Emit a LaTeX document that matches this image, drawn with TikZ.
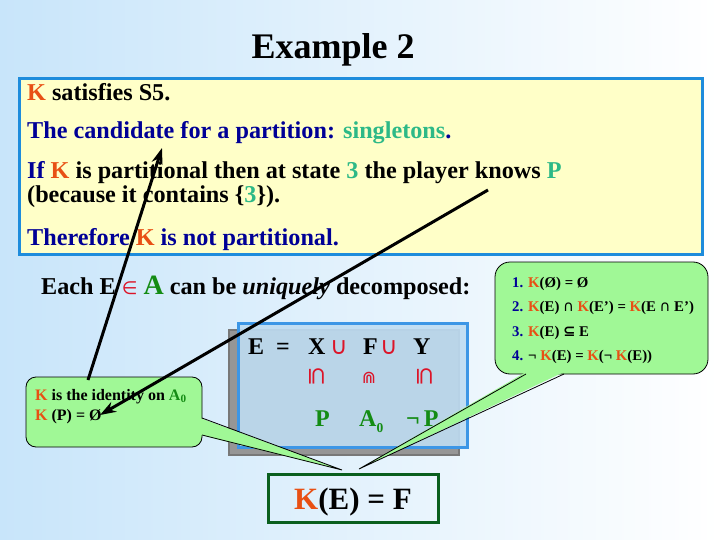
\documentclass[tikz,border=0pt]{standalone}
\usepackage{fontspec}
\setmainfont{Liberation Serif}
\newfontfamily\symf{DejaVu Sans}
\usetikzlibrary{arrows.meta}
\definecolor{bgL}{RGB}{200,229,250}
\definecolor{kor}{RGB}{232,80,20}
\definecolor{cnavy}{RGB}{0,0,150}
\definecolor{cteal}{RGB}{45,185,135}
\definecolor{grn}{RGB}{20,140,20}
\definecolor{rd}{RGB}{220,20,40}
\definecolor{ylw}{RGB}{255,255,200}
\definecolor{ybord}{RGB}{30,140,220}
\definecolor{cg}{RGB}{160,248,150}
\definecolor{bfill}{RGB}{190,220,242}
\definecolor{bbord}{RGB}{60,150,230}
\definecolor{dgreen}{RGB}{10,95,30}
\newcommand{\KK}{\textcolor{kor}{K}}
\newcommand{\capop}{{\symf\mdseries ∩}}
\tikzset{
  txt/.style={anchor=base west, inner sep=0pt, font=\fontsize{24.2}{28}\selectfont\bfseries},
  boxtxt/.style={anchor=base west, inner sep=0pt, font=\fontsize{24}{28}\selectfont\bfseries},
  smalltxt/.style={anchor=base west, inner sep=0pt, font=\fontsize{16}{18}\selectfont\bfseries},
  listtxt/.style={anchor=base west, inner sep=0pt, font=\fontsize{14.8}{16}\selectfont\bfseries},
  callout/.style={draw=black, line width=0.8pt, fill=cg},
  tailline/.style={draw=black, line width=0.8pt},
  bigarrow/.style={line width=3pt, -{Stealth[length=16pt,width=11pt,inset=5pt]}},
  relsym/.style={inner sep=0pt, text=rd, font=\symf\fontsize{24}{24}\selectfont}
}
\begin{document}
\begin{tikzpicture}[x=1pt,y=-1pt]
\useasboundingbox (0,0) rectangle (720,540);
\shade[left color=bgL, right color=white] (0,0) rectangle (720,540);

% title
\node[anchor=base, inner sep=0pt, font=\fontsize{36}{40}\selectfont\bfseries] (title) at (333,59) {Example 2};

% yellow box
\draw[fill=ylw, draw=ybord, line width=3pt] (19.5,78.5) rectangle (702,254.5);
\node[txt] (l1) at (27,101) {\KK{} satisfies S5.};
\node[txt] (l2) at (27,139) {\textcolor{cnavy}{The candidate for a partition:} \textcolor{cteal}{singletons}\textcolor{cnavy}{.}};
\node[txt] (l3) at (27,179) {\textcolor{cnavy}{If} \KK{} is partitional then at state \textcolor{cteal}{3} the player knows \textcolor{cteal}{P}};
\node[txt] (l4) at (27,203) {(because it contains \{\textcolor{cteal}{3}\}).};
\node[txt] (l5) at (27,245) {\textcolor{cnavy}{Therefore} \KK{} \textcolor{cnavy}{is not partitional.}};

% decomposition sentence
\node[txt] (each) at (41,294) {Each E \textcolor{rd}{\symf\mdseries\fontsize{18}{18}\selectfont ∈} \textcolor{grn}{\fontsize{28}{30}\selectfont A} can be \textit{uniquely} decomposed:};

% shadowed blue box
\draw[fill={rgb,255:red,150;green,150;blue,150}, draw={rgb,255:red,120;green,120;blue,120}, line width=1.2pt] (229,330) rectangle (459,455);
\draw[fill=bfill, fill opacity=0.9, draw=bbord, line width=3pt] (238,323) rectangle (467,447);

\node[boxtxt] (E) at (248,354) {E};
\node[boxtxt] (eq) at (276,354) {=};
\node[boxtxt] (X) at (308,354) {X};
\node[boxtxt, text=rd, font=\symf\fontsize{24}{28}\selectfont] (u1) at (330,354) {∪};
\node[boxtxt] (F) at (363,354) {F};
\node[boxtxt, text=rd, font=\symf\fontsize{24}{28}\selectfont] (u2) at (380,354) {∪};
\node[boxtxt] (Y) at (413,354) {Y};

\node[relsym, rotate=-90] (s1) at (317,377) {⊆};
\node[relsym, font=\symf\fontsize{17}{17}\selectfont] (s2) at (369,378) {⋒};
\node[relsym, rotate=-90] (s3) at (425,377) {⊆};

\node[boxtxt, text=grn] (P1) at (315,426) {P};
\node[boxtxt, text=grn] (A0) at (359,426) {A\raisebox{-6pt}{\fontsize{13.5}{14}\selectfont 0}};
\node[boxtxt, text=grn] (nP) at (406,426) {¬\,P};

% right callout
\coordinate (tipR) at (359,469);
\draw[callout, rounded corners=15pt] (495,262) rectangle (708,374);
\fill[cg] (526,372) -- (tipR) -- (564,372) -- cycle;
\draw[tailline] (526,374) -- (tipR) -- (564,374);
\node[listtxt, text=cnavy] (n1) at (512,287) {1.};
\node[listtxt] (i1) at (528,287) {\KK(Ø) = Ø};
\node[listtxt, text=cnavy] (n2) at (512,311) {2.};
\node[listtxt] (i2) at (528,311) {\KK(E) \capop{} \KK(E’) = \KK(E \capop{} E’)};
\node[listtxt, text=cnavy] (n3) at (512,336) {3.};
\node[listtxt] (i3) at (528,336) {\KK(E) {\symf ⊆} E};
\node[listtxt, text=cnavy] (n4) at (512,360) {4.};
\node[listtxt] (i4) at (528,360) {¬ \KK(E) = \KK(¬ \KK(E))};

% left callout
\coordinate (tipL) at (342,470);
\draw[callout, rounded corners=10pt] (26,377) rectangle (202,447);
\fill[cg] (200,418) -- (tipL) -- (200,435) -- cycle;
\draw[tailline] (202,418) -- (tipL) -- (202,435);
\node[smalltxt] (c1) at (35,400) {\KK{} is the identity on \textcolor{grn}{A\textsubscript{0}}};
\node[smalltxt] (c2) at (35,420) {\KK{} (P) = Ø};

% K(E)=F box
\node[draw=dgreen, line width=3pt, minimum width=170pt, minimum height=48pt, inner sep=0pt] (kef) at (353,498) {};
\node[anchor=base, inner sep=0pt, font=\fontsize{31}{34}\selectfont\bfseries] (keft) at (353,509) {\KK(E) = F};

% arrows
\coordinate (a1s) at (88,380);
\coordinate (a1e) at (162,148);
\coordinate (a2s) at (488,190);
\coordinate (a2e) at (100,415);
\draw[bigarrow] (a1s) -- (a1e);
\draw[bigarrow] (a2s) -- (a2e);
\end{tikzpicture}
\end{document}
